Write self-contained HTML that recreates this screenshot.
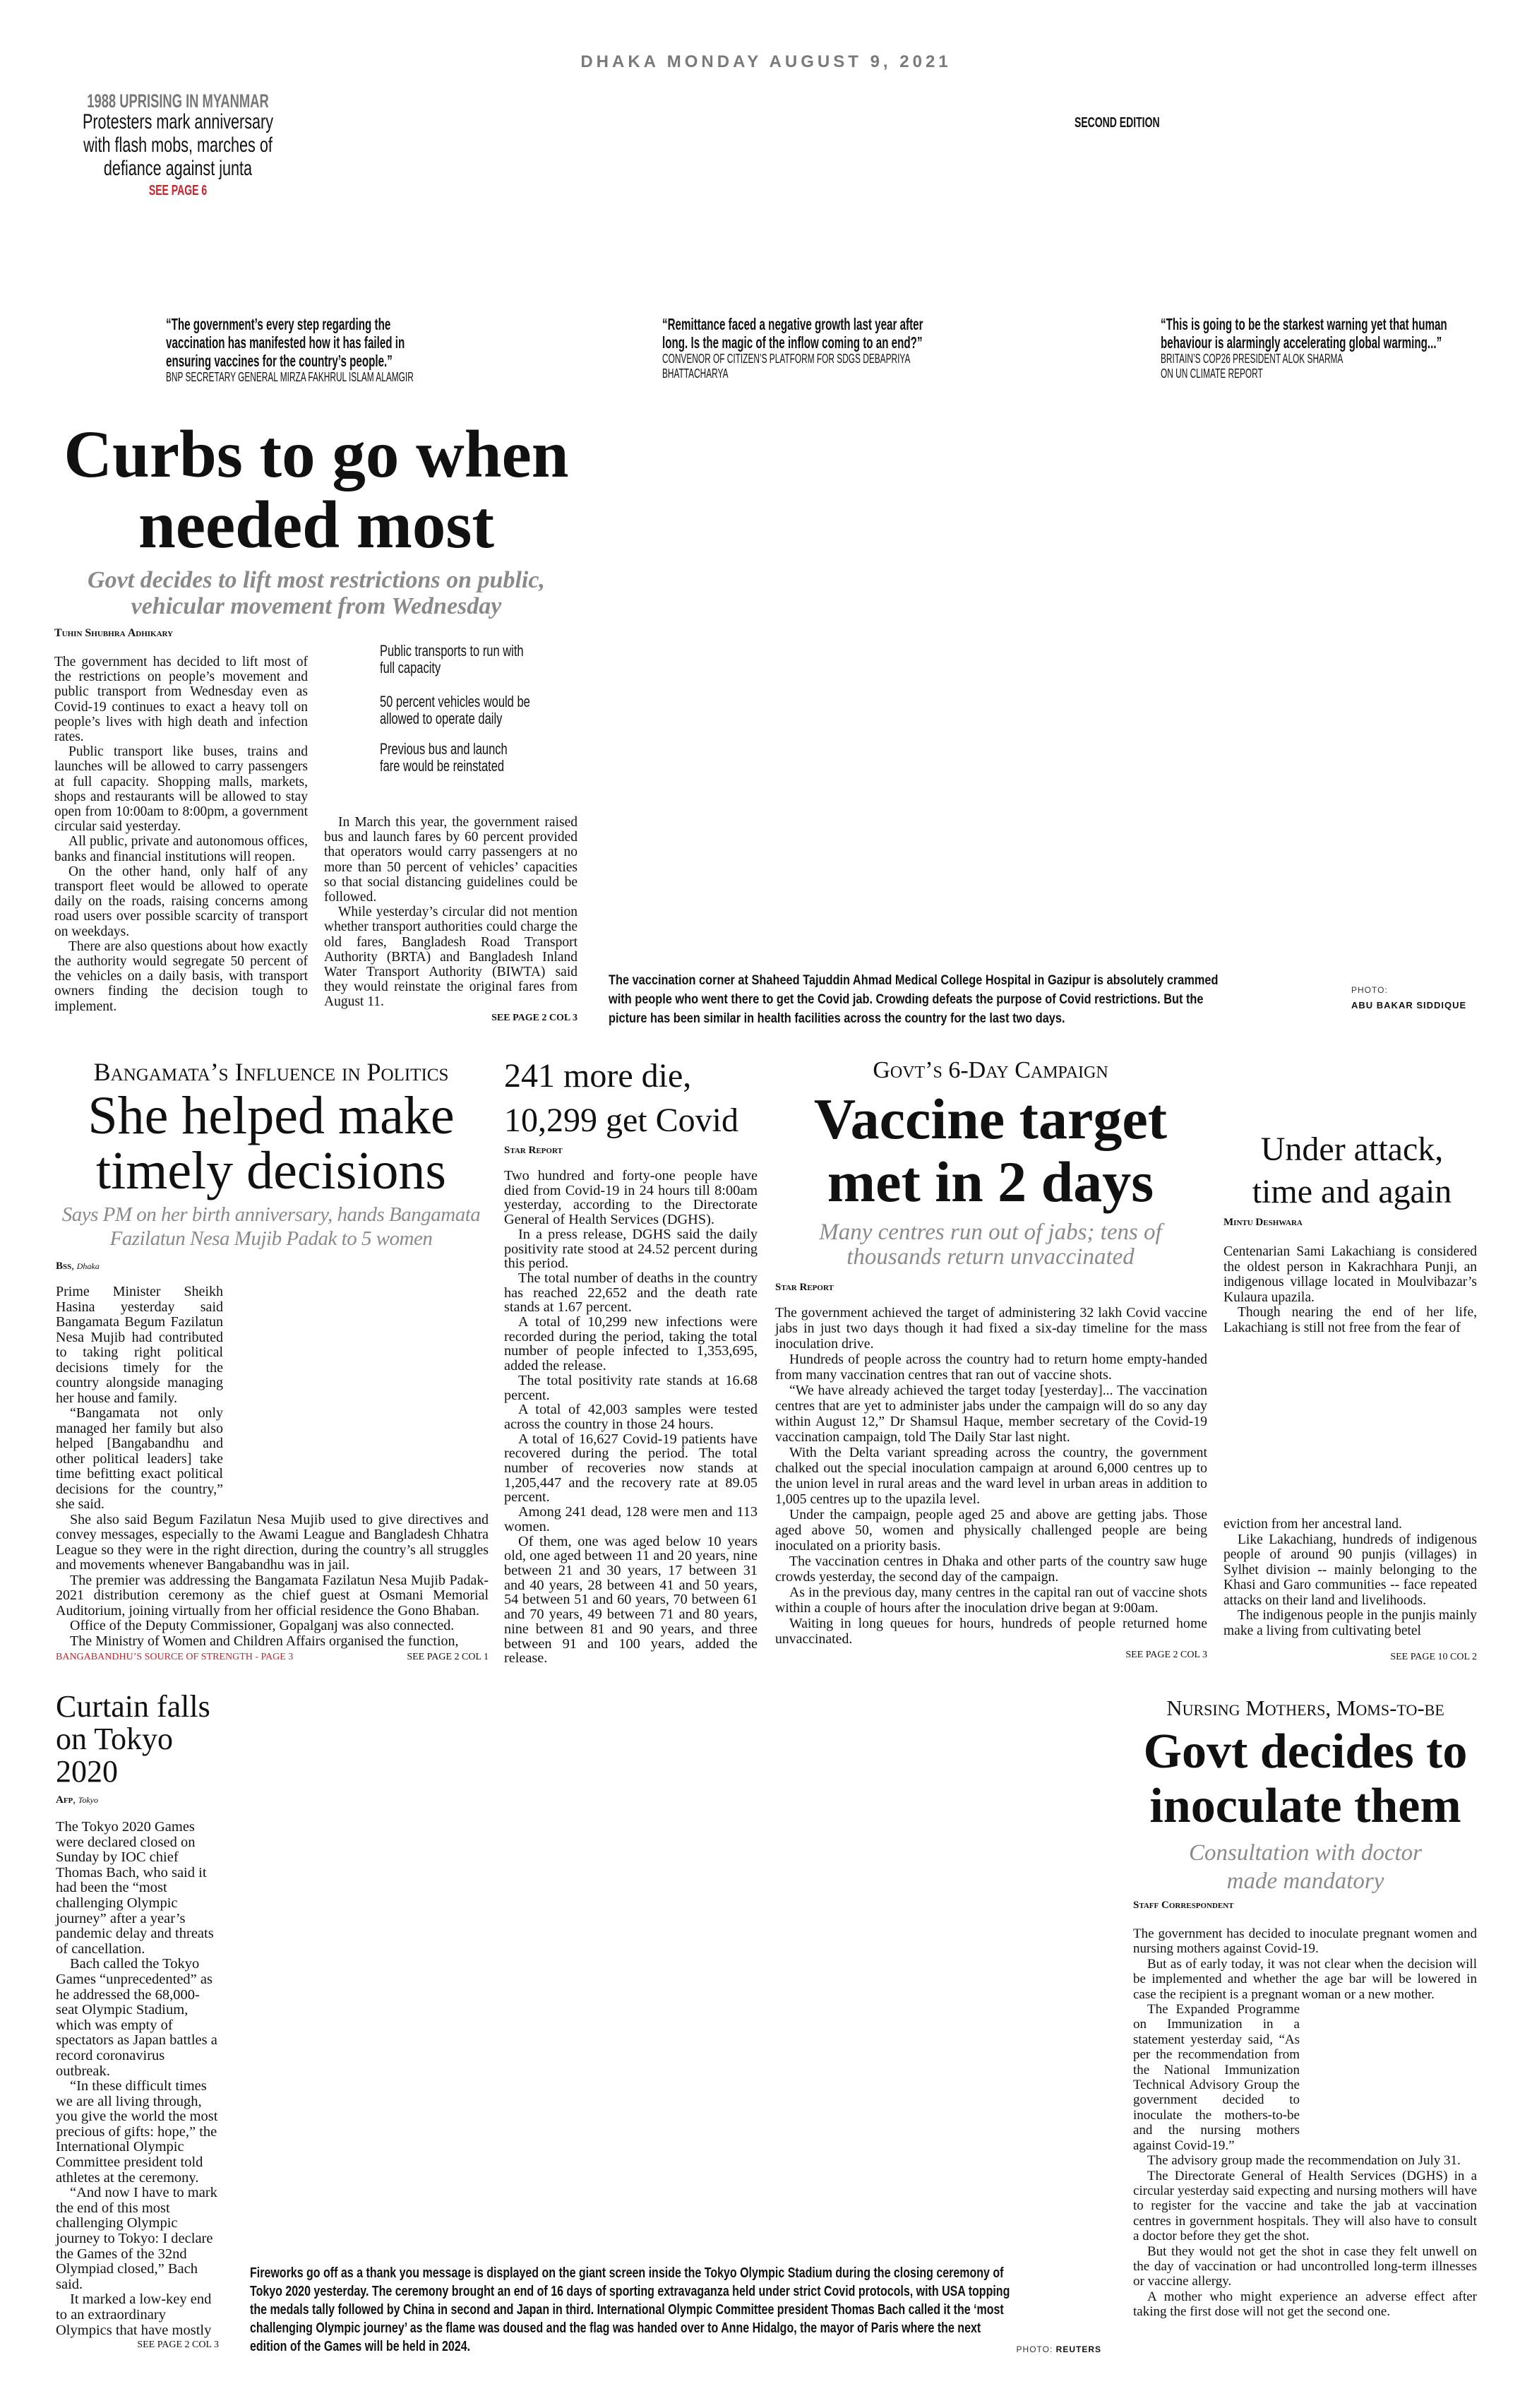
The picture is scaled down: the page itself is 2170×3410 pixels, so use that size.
<!DOCTYPE html>
<html><head><meta charset="utf-8">
<style>
html,body{margin:0;padding:0;background:#fff;}
body{width:2170px;height:3410px;position:relative;overflow:hidden;color:#111;}
.a{position:absolute;margin:0;}
.serif{font-family:"Liberation Serif",serif;}
.sans{font-family:"Liberation Sans",sans-serif;}
.c{white-space:nowrap;}
.body p{margin:0;text-indent:20px;text-align:justify;}
.body p.ni{text-indent:0;}
.sc{font-variant:small-caps;}
.gray{color:#8a8a8a;}
.red{color:#d0202a;}
</style></head><body>

<!-- Header -->
<div class="a sans" style="left:585px;top:74px;width:1000px;text-align:center;font-size:24px;font-weight:bold;letter-spacing:5px;color:#7a7a7a;">DHAKA MONDAY AUGUST 9, 2021</div>

<div class="a sans c" style="left:52px;top:128px;width:400px;text-align:center;transform:scaleX(.68);transform-origin:center;font-size:27px;font-weight:bold;color:#777;">1988 UPRISING IN MYANMAR</div>
<div class="a sans c" style="left:52px;top:156px;width:400px;text-align:center;transform:scaleX(.72);transform-origin:center;font-size:30px;line-height:33px;color:#111;">Protesters mark anniversary<br>with flash mobs, marches of<br>defiance against junta</div>
<div class="a sans c red" style="left:152px;top:259px;width:200px;text-align:center;transform:scaleX(.7);transform-origin:center;font-size:20px;font-weight:bold;">SEE PAGE 6</div>

<div class="a sans c" style="left:1522px;top:163px;transform:scaleX(.7);transform-origin:left;font-size:20px;font-weight:bold;">SECOND EDITION</div>

<!-- Quotes -->
<div class="a sans c" style="left:235px;top:446px;transform:scaleX(.66);transform-origin:left top;">
<div style="font-size:23px;font-weight:bold;line-height:26px;">“The government’s every step regarding the<br>vaccination has manifested how it has failed in<br>ensuring vaccines for the country’s people.”</div>
<div style="font-size:18px;line-height:21px;">BNP SECRETARY GENERAL MIRZA FAKHRUL ISLAM ALAMGIR</div></div>

<div class="a sans c" style="left:938px;top:446px;transform:scaleX(.66);transform-origin:left top;">
<div style="font-size:23px;font-weight:bold;line-height:26px;">“Remittance faced a negative growth last year after<br>long. Is the magic of the inflow coming to an end?”</div>
<div style="font-size:18px;line-height:21px;">CONVENOR OF CITIZEN’S PLATFORM FOR SDGS DEBAPRIYA<br>BHATTACHARYA</div></div>

<div class="a sans c" style="left:1644px;top:446px;transform:scaleX(.66);transform-origin:left top;">
<div style="font-size:23px;font-weight:bold;line-height:26px;">“This is going to be the starkest warning yet that human<br>behaviour is alarmingly accelerating global warming...”</div>
<div style="font-size:18px;line-height:21px;">BRITAIN’S COP26 PRESIDENT ALOK SHARMA<br>ON UN CLIMATE REPORT</div></div>

<!-- Lead story -->
<div class="a serif c" style="left:0;top:593px;width:896px;text-align:center;font-size:95px;line-height:100px;font-weight:bold;">Curbs to go when<br>needed most</div>
<div class="a serif c gray" style="left:0;top:803px;width:896px;text-align:center;font-size:34px;line-height:37px;font-weight:bold;font-style:italic;">Govt decides to lift most restrictions on public,<br>vehicular movement from Wednesday</div>
<div class="a serif sc c" style="left:77px;top:888px;font-size:16px;font-weight:bold;">Tuhin Shubhra Adhikary</div>

<div class="a serif body" style="left:77px;top:927px;width:359px;font-size:19.5px;line-height:21.2px;">
<p class="ni">The government has decided to lift most of the restrictions on people’s movement and public transport from Wednesday even as Covid-19 continues to exact a heavy toll on people’s lives with high death and infection rates.</p>
<p>Public transport like buses, trains and launches will be allowed to carry passengers at full capacity. Shopping malls, markets, shops and restaurants will be allowed to stay open from 10:00am to 8:00pm, a government circular said yesterday.</p>
<p>All public, private and autonomous offices, banks and financial institutions will reopen.</p>
<p>On the other hand, only half of any transport fleet would be allowed to operate daily on the roads, raising concerns among road users over possible scarcity of transport on weekdays.</p>
<p>There are also questions about how exactly the authority would segregate 50 percent of the vehicles on a daily basis, with transport owners finding the decision tough to implement.</p>
</div>

<div class="a sans c" style="left:538px;top:910px;transform:scaleX(.75);transform-origin:left top;font-size:22px;line-height:24px;">
Public transports to run with<br>full capacity<br><div style="height:24px"></div>50 percent vehicles would be<br>allowed to operate daily<br><div style="height:19px"></div>Previous bus and launch<br>fare would be reinstated</div>

<div class="a serif body" style="left:459px;top:1154px;width:359px;font-size:19.5px;line-height:21.2px;">
<p>In March this year, the government raised bus and launch fares by 60 percent provided that operators would carry passengers at no more than 50 percent of vehicles’ capacities so that social distancing guidelines could be followed.</p>
<p>While yesterday’s circular did not mention whether transport authorities could charge the old fares, Bangladesh Road Transport Authority (BRTA) and Bangladesh Inland Water Transport Authority (BIWTA) said they would reinstate the original fares from August 11.</p>
</div>
<div class="a serif c" style="left:618px;top:1434px;width:200px;text-align:right;font-size:14px;font-weight:bold;">SEE PAGE 2 COL 3</div>

<div class="a sans c" style="left:862px;top:1375px;transform:scaleX(.86);transform-origin:left top;font-size:19px;line-height:27px;font-weight:bold;">The vaccination corner at Shaheed Tajuddin Ahmad Medical College Hospital in Gazipur is absolutely crammed<br>with people who went there to get the Covid jab. Crowding defeats the purpose of Covid restrictions. But the<br>picture has been similar in health facilities across the country for the last two days.</div>
<div class="a sans c" style="left:1914px;top:1395px;font-size:12px;letter-spacing:1px;color:#333;">PHOTO:</div>
<div class="a sans c" style="left:1914px;top:1416px;font-size:13px;font-weight:bold;letter-spacing:1px;">ABU BAKAR SIDDIQUE</div>

<!-- Bangamata -->
<div class="a serif sc c" style="left:84px;top:1498px;width:600px;text-align:center;font-size:36px;line-height:40px;">Bangamata’s Influence in Politics</div>
<div class="a serif c" style="left:84px;top:1541px;width:600px;text-align:center;font-size:76px;line-height:78px;">She helped make<br>timely decisions</div>
<div class="a serif c gray" style="left:84px;top:1703px;width:600px;text-align:center;font-size:29px;line-height:34px;font-style:italic;letter-spacing:-.5px;">Says PM on her birth anniversary, hands Bangamata<br>Fazilatun Nesa Mujib Padak to 5 women</div>
<div class="a serif c" style="left:79px;top:1785px;font-size:15px;"><span class="sc" style="font-weight:bold;">Bss</span>, <i style="font-size:12px">Dhaka</i></div>

<div class="a serif body" style="left:79px;top:1819px;width:613px;font-size:20px;line-height:21.5px;">
<div style="float:right;width:376px;height:322px;"></div>
<p class="ni">Prime Minister Sheikh Hasina yesterday said Bangamata Begum Fazilatun Nesa Mujib had contributed to taking right political decisions timely for the country alongside managing her house and family.</p>
<p>“Bangamata not only managed her family but also helped [Bangabandhu and other political leaders] take time befitting exact political decisions for the country,” she said.</p>
<p>She also said Begum Fazilatun Nesa Mujib used to give directives and convey messages, especially to the Awami League and Bangladesh Chhatra League so they were in the right direction, during the country’s all struggles and movements whenever Bangabandhu was in jail.</p>
<p>The premier was addressing the Bangamata Fazilatun Nesa Mujib Padak-2021 distribution ceremony as the chief guest at Osmani Memorial Auditorium, joining virtually from her official residence the Gono Bhaban.</p>
<p>Office of the Deputy Commissioner, Gopalganj was also connected.</p>
<p>The Ministry of Women and Children Affairs organised the function,</p>
</div>
<div class="a serif c red" style="left:79px;top:2339px;font-size:14px;">BANGABANDHU’S SOURCE OF STRENGTH - PAGE 3</div>
<div class="a serif c" style="left:492px;top:2339px;width:200px;text-align:right;font-size:14px;">SEE PAGE 2 COL 1</div>

<!-- 241 more die -->
<div class="a serif c" style="left:714px;top:1492px;font-size:48px;line-height:63px;">241 more die,<br>10,299 get Covid</div>
<div class="a serif sc c" style="left:714px;top:1621px;font-size:15px;font-weight:bold;">Star Report</div>
<div class="a serif body" style="left:714px;top:1655px;width:359px;font-size:20.3px;line-height:20.7px;">
<p class="ni">Two hundred and forty-one people have died from Covid-19 in 24 hours till 8:00am yesterday, according to the Directorate General of Health Services (DGHS).</p>
<p>In a press release, DGHS said the daily positivity rate stood at 24.52 percent during this period.</p>
<p>The total number of deaths in the country has reached 22,652 and the death rate stands at 1.67 percent.</p>
<p>A total of 10,299 new infections were recorded during the period, taking the total number of people infected to 1,353,695, added the release.</p>
<p>The total positivity rate stands at 16.68 percent.</p>
<p>A total of 42,003 samples were tested across the country in those 24 hours.</p>
<p>A total of 16,627 Covid-19 patients have recovered during the period. The total number of recoveries now stands at 1,205,447 and the recovery rate at 89.05 percent.</p>
<p>Among 241 dead, 128 were men and 113 women.</p>
<p>Of them, one was aged below 10 years old, one aged between 11 and 20 years, nine between 21 and 30 years, 17 between 31 and 40 years, 28 between 41 and 50 years, 54 between 51 and 60 years, 70 between 61 and 70 years, 49 between 71 and 80 years, nine between 81 and 90 years, and three between 91 and 100 years, added the release.</p>
</div>

<!-- Vaccine target -->
<div class="a serif sc c" style="left:1103px;top:1497px;width:600px;text-align:center;font-size:34px;line-height:38px;">Govt’s 6-Day Campaign</div>
<div class="a serif c" style="left:1103px;top:1540px;width:600px;text-align:center;font-size:82px;line-height:89px;font-weight:bold;">Vaccine target<br>met in 2 days</div>
<div class="a serif c gray" style="left:1103px;top:1728px;width:600px;text-align:center;font-size:33px;line-height:35px;font-style:italic;">Many centres run out of jabs; tens of<br>thousands return unvaccinated</div>
<div class="a serif sc c" style="left:1098px;top:1815px;font-size:15px;font-weight:bold;">Star Report</div>
<div class="a serif body" style="left:1098px;top:1848px;width:612px;font-size:19.8px;line-height:22px;">
<p class="ni">The government achieved the target of administering 32 lakh Covid vaccine jabs in just two days though it had fixed a six-day timeline for the mass inoculation drive.</p>
<p>Hundreds of people across the country had to return home empty-handed from many vaccination centres that ran out of vaccine shots.</p>
<p>“We have already achieved the target today [yesterday]... The vaccination centres that are yet to administer jabs under the campaign will do so any day within August 12,” Dr Shamsul Haque, member secretary of the Covid-19 vaccination campaign, told The Daily Star last night.</p>
<p>With the Delta variant spreading across the country, the government chalked out the special inoculation campaign at around 6,000 centres up to the union level in rural areas and the ward level in urban areas in addition to 1,005 centres up to the upazila level.</p>
<p>Under the campaign, people aged 25 and above are getting jabs. Those aged above 50, women and physically challenged people are being inoculated on a priority basis.</p>
<p>The vaccination centres in Dhaka and other parts of the country saw huge crowds yesterday, the second day of the campaign.</p>
<p>As in the previous day, many centres in the capital ran out of vaccine shots within a couple of hours after the inoculation drive began at 9:00am.</p>
<p>Waiting in long queues for hours, hundreds of people returned home unvaccinated.</p>
</div>
<div class="a serif c" style="left:1510px;top:2336px;width:200px;text-align:right;font-size:14px;">SEE PAGE 2 COL 3</div>

<!-- Under attack -->
<div class="a serif c" style="left:1715px;top:1598px;width:400px;text-align:center;font-size:48px;line-height:60px;">Under attack,<br>time and again</div>
<div class="a serif sc c" style="left:1733px;top:1723px;font-size:15px;font-weight:bold;">Mintu Deshwara</div>
<div class="a serif body" style="left:1733px;top:1762px;width:359px;font-size:19.5px;line-height:21.5px;">
<p class="ni">Centenarian Sami Lakachiang is considered the oldest person in Kakrachhara Punji, an indigenous village located in Moulvibazar’s Kulaura upazila.</p>
<p>Though nearing the end of her life, Lakachiang is still not free from the fear of</p>
</div>
<div class="a serif body" style="left:1733px;top:2148px;width:359px;font-size:19.5px;line-height:21.5px;">
<p class="ni">eviction from her ancestral land.</p>
<p>Like Lakachiang, hundreds of indigenous people of around 90 punjis (villages) in Sylhet division -- mainly belonging to the Khasi and Garo communities -- face repeated attacks on their land and livelihoods.</p>
<p>The indigenous people in the punjis mainly make a living from cultivating betel</p>
</div>
<div class="a serif c" style="left:1892px;top:2339px;width:200px;text-align:right;font-size:14px;">SEE PAGE 10 COL 2</div>

<!-- Tokyo -->
<div class="a serif c" style="left:79px;top:2394px;font-size:44px;line-height:46px;">Curtain falls<br>on Tokyo<br>2020</div>
<div class="a serif c" style="left:79px;top:2541px;font-size:15px;"><span class="sc" style="font-weight:bold;">Afp</span>, <i style="font-size:12px">Tokyo</i></div>
<div class="a serif body" style="left:79px;top:2577px;width:231px;font-size:20.5px;line-height:21.6px;">
<p class="ni" style="text-align:left">The Tokyo 2020 Games were declared closed on Sunday by IOC chief Thomas Bach, who said it had been the “most challenging Olympic journey” after a year’s pandemic delay and threats of cancellation.</p>
<p style="text-align:left">Bach called the Tokyo Games “unprecedented” as he addressed the 68,000-seat Olympic Stadium, which was empty of spectators as Japan battles a record coronavirus outbreak.</p>
<p style="text-align:left">“In these difficult times we are all living through, you give the world the most precious of gifts: hope,” the International Olympic Committee president told athletes at the ceremony.</p>
<p style="text-align:left">“And now I have to mark the end of this most challenging Olympic journey to Tokyo: I declare the Games of the 32nd Olympiad closed,” Bach said.</p>
<p style="text-align:left">It marked a low-key end to an extraordinary Olympics that have mostly</p>
</div>
<div class="a serif c" style="left:110px;top:3313px;width:200px;text-align:right;font-size:14px;">SEE PAGE 2 COL 3</div>

<div class="a sans c" style="left:354px;top:3206px;transform:scaleX(.8);transform-origin:left top;font-size:20px;line-height:26px;font-weight:bold;">Fireworks go off as a thank you message is displayed on the giant screen inside the Tokyo Olympic Stadium during the closing ceremony of<br>Tokyo 2020 yesterday. The ceremony brought an end of 16 days of sporting extravaganza held under strict Covid protocols, with USA topping<br>the medals tally followed by China in second and Japan in third. International Olympic Committee president Thomas Bach called it the ‘most<br>challenging Olympic journey’ as the flame was doused and the flag was handed over to Anne Hidalgo, the mayor of Paris where the next<br>edition of the Games will be held in 2024.</div>
<div class="a sans c" style="left:1360px;top:3320px;width:200px;text-align:right;font-size:12px;letter-spacing:1px;color:#333;">PHOTO: <b style="color:#111">REUTERS</b></div>

<!-- Nursing mothers -->
<div class="a serif sc c" style="left:1549px;top:2402px;width:600px;text-align:center;font-size:31px;line-height:34px;">Nursing Mothers, Moms-to-be</div>
<div class="a serif c" style="left:1549px;top:2442px;width:600px;text-align:center;font-size:70px;line-height:77px;font-weight:bold;">Govt decides to<br>inoculate them</div>
<div class="a serif c gray" style="left:1549px;top:2604px;width:600px;text-align:center;font-size:33px;line-height:40px;font-style:italic;">Consultation with doctor<br>made mandatory</div>
<div class="a serif sc c" style="left:1605px;top:2690px;font-size:15px;font-weight:bold;">Staff Correspondent</div>
<div class="a serif body" style="left:1605px;top:2728px;width:487px;font-size:19px;line-height:21.4px;">
<p class="ni">The government has decided to inoculate pregnant women and nursing mothers against Covid-19.</p>
<p>But as of early today, it was not clear when the decision will be implemented and whether the age bar will be lowered in case the recipient is a pregnant woman or a new mother.</p>
<div style="float:right;width:251px;height:193px;"></div>
<p>The Expanded Programme on Immunization in a statement yesterday said, “As per the recommendation from the National Immunization Technical Advisory Group the government decided to inoculate the mothers-to-be and the nursing mothers against Covid-19.”</p>
<p>The advisory group made the recommendation on July 31.</p>
<p>The Directorate General of Health Services (DGHS) in a circular yesterday said expecting and nursing mothers will have to register for the vaccine and take the jab at vaccination centres in government hospitals. They will also have to consult a doctor before they get the shot.</p>
<p>But they would not get the shot in case they felt unwell on the day of vaccination or had uncontrolled long-term illnesses or vaccine allergy.</p>
<p>A mother who might experience an adverse effect after taking the first dose will not get the second one.</p>
</div>

</body></html>
